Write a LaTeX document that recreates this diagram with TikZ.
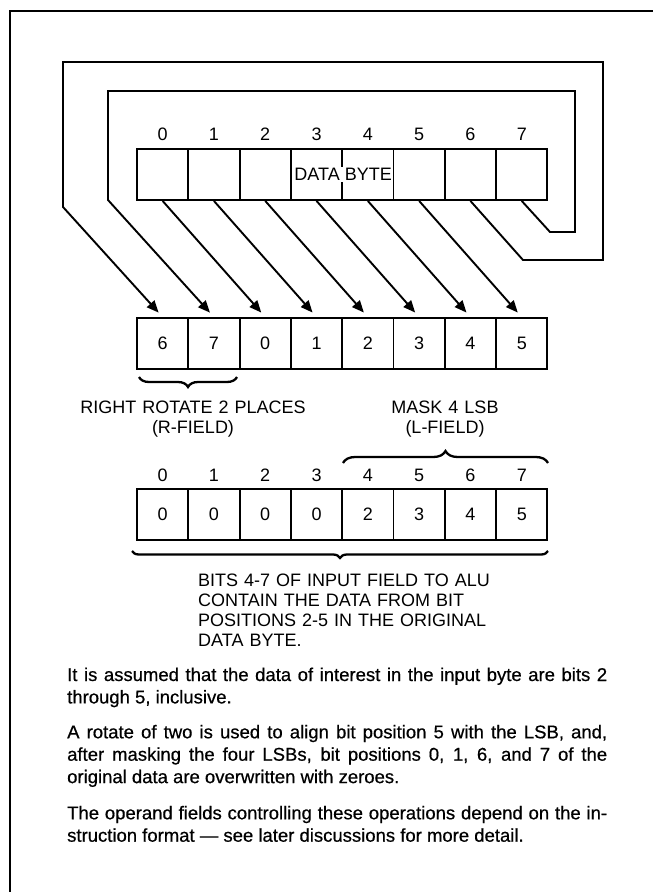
\documentclass[tikz,border=0pt]{standalone}
\usepackage{fontspec}
\setmainfont{Liberation Sans}
\newfontfamily\bodyfont{Liberation Sans}[BoldFont={Liberation Sans},BoldFeatures={FakeBold=0.6}]
\usetikzlibrary{arrows.meta,decorations.pathreplacing,calc}
\begin{document}
\begin{tikzpicture}[x=1pt,y=-1pt,
  cell/.style={draw,line width=1.9pt,minimum width=51.3pt,minimum height=51pt,inner sep=0pt,
    font=\fontsize{18}{20}\selectfont},
  lbl/.style={inner sep=0pt,font=\fontsize{18}{20}\selectfont},
  wire/.style={line width=1.9pt,line join=miter},
  arr/.style={-{Triangle[length=12pt,width=10pt]},shorten >=6pt},
  brc/.style={decorate,line width=2.3pt},
  para/.style={inner sep=0pt,text width=540pt,align=justify,anchor=base west,
    font=\bodyfont\bfseries\fontsize{18.5}{22.4}\selectfont},
  frame/.style={line width=2.8pt}]
\useasboundingbox (0,0) rectangle (653,892);
% frame
\draw[frame] (653,11) -- (10,11) -- (10,892);
% data byte row
\foreach \i in {0,...,7}{
  \node[cell] (d\i) at ({162.65+51.3*\i},174.5) {};
  \node[lbl,anchor=base] (dn\i) at ({162.65+51.3*\i},140.7) {\i};
}
\node[lbl,fill=white,inner sep=1pt] (db) at (d3.east) {DATA BYTE};
% rotated row
\foreach \i/\v in {0/6,1/7,2/0,3/1,4/2,5/3,6/4,7/5}{
  \node[cell] (r\i) at ({162.65+51.3*\i},343.5) {\v};
}
% masked row
\foreach \i/\v in {0/0,1/0,2/0,3/0,4/2,5/3,6/4,7/5}{
  \node[cell] (m\i) at ({162.65+51.3*\i},514.5) {\v};
  \node[lbl,anchor=base] (mn\i) at ({162.65+51.3*\i},481.7) {\i};
}
% straight connectors
\foreach \i/\j in {0/2,1/3,2/4,3/5,4/6,5/7}{
  \draw[wire,arr] (d\i.south) -- (r\j.north);
}
% wrap-around connectors
\coordinate (w6a) at (523,260);
\coordinate (w6b) at (603,260);
\coordinate (w6c) at (603,62);
\coordinate (w6d) at (63,62);
\coordinate (w6e) at (63,207);
\draw[wire,arr] (d6.south) -- (w6a) -- (w6b) -- (w6c) -- (w6d) -- (w6e) -- (r0.north);
\coordinate (w7a) at (550,232);
\coordinate (w7b) at (575,232);
\coordinate (w7c) at (575,91);
\coordinate (w7d) at (108,91);
\coordinate (w7e) at (108,200);
\draw[wire,arr] (d7.south) -- (w7a) -- (w7b) -- (w7c) -- (w7d) -- (w7e) -- (r1.north);
% braces
\draw[brc,decoration={brace,amplitude=10pt}] (237,377) -- (139,377);
\draw[brc,decoration={brace,amplitude=12pt}] (343,463) -- (548,463);
\draw[brc,decoration={brace,amplitude=7pt}] (548,551) -- (132,551);
% labels
\node[lbl,anchor=base,text width=260pt,align=center] (rlab) at (193,413)
  {RIGHT ROTATE 2 PLACES\\(R-FIELD)};
\node[lbl,anchor=base,text width=200pt,align=center] (mlab) at (445,413)
  {MASK 4 LSB\\(L-FIELD)};
\node[lbl,anchor=base west,text width=340pt,align=left,font=\fontsize{18}{20.2}\selectfont] (bits) at (198,586)
  {BITS 4-7 OF INPUT FIELD TO ALU\\CONTAIN THE DATA FROM BIT\\POSITIONS 2-5 IN THE ORIGINAL\\DATA BYTE.};
% paragraphs
\node[para] (p1) at (67,681)
  {It is assumed that the data of interest in the input byte are bits 2\linebreak through 5, inclusive.};
\node[para] (p2) at (67,738.3)
  {A rotate of two is used to align bit position 5 with the LSB, and,\linebreak after masking the four LSBs, bit positions 0, 1, 6, and 7 of the\linebreak original data are overwritten with zeroes.};
\node[para] (p3) at (67,819.3)
  {The operand fields controlling these operations depend on the in-\linebreak struction format — see later discussions for more detail.};
\end{tikzpicture}
\end{document}
